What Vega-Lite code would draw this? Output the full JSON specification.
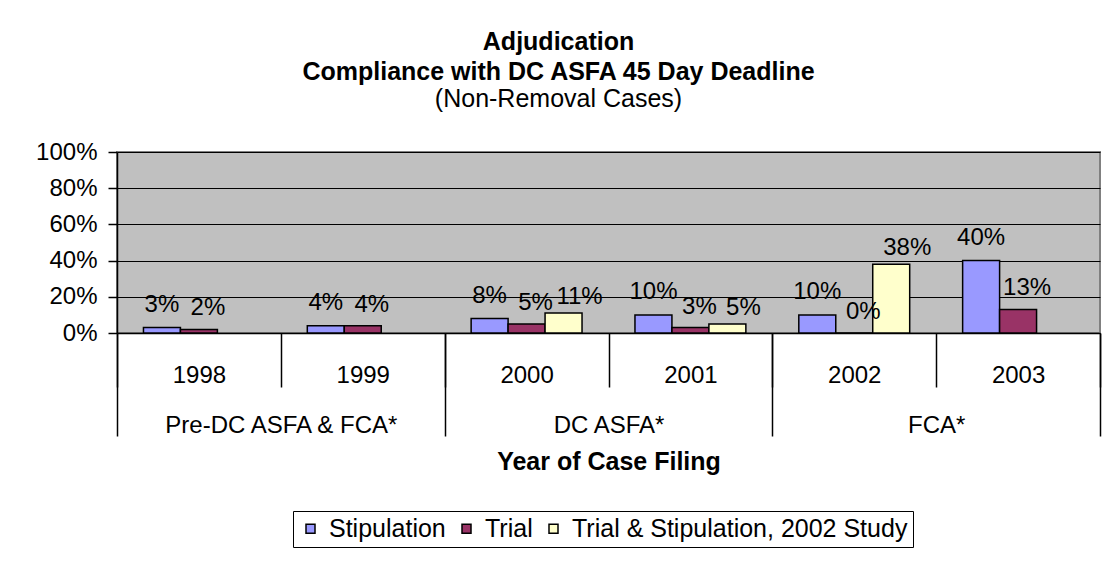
{
  "$schema": "https://vega.github.io/schema/vega-lite/v6.json",
  "width": 983,
  "height": 181,
  "autosize": {"type": "none"},
  "padding": {"left": 117, "top": 152, "right": 16, "bottom": 229},
  "background": "white",
  "config": {
    "font": "Liberation Sans",
    "view": {"fill": "#C0C0C0", "stroke": "#808080", "strokeWidth": 2},
    "axis": {"labelColor": "black", "labelFontSize": 24, "labelFont": "Liberation Sans", "domainColor": "black", "tickColor": "black", "titleColor": "black", "titleFont": "Liberation Sans", "labelLimit": 0}
  },
  "title": {
    "text": ["Adjudication", "Compliance with DC ASFA 45 Day Deadline"],
    "subtitle": "(Non-Removal Cases)",
    "font": "Liberation Sans",
    "subtitleFont": "Liberation Sans",
    "fontSize": 25,
    "subtitleFontSize": 25,
    "fontWeight": "bold",
    "subtitleFontWeight": "normal",
    "color": "black",
    "subtitleColor": "black",
    "lineHeight": 30,
    "subtitleLineHeight": 30,
    "subtitlePadding": 2,
    "anchor": "middle",
    "frame": "group",
    "dx": -50,
    "offset": 28
  },
  "data": {
    "values": [
      {"group": "Pre-DC ASFA & FCA*", "year": "1998", "series": "Stipulation", "value": 0.03},
      {"group": "Pre-DC ASFA & FCA*", "year": "1998", "series": "Trial", "value": 0.02},
      {"group": "Pre-DC ASFA & FCA*", "year": "1999", "series": "Stipulation", "value": 0.04},
      {"group": "Pre-DC ASFA & FCA*", "year": "1999", "series": "Trial", "value": 0.04},
      {"group": "DC ASFA*", "year": "2000", "series": "Stipulation", "value": 0.08},
      {"group": "DC ASFA*", "year": "2000", "series": "Trial", "value": 0.05},
      {"group": "DC ASFA*", "year": "2000", "series": "Trial & Stipulation, 2002 Study", "value": 0.11},
      {"group": "DC ASFA*", "year": "2001", "series": "Stipulation", "value": 0.10},
      {"group": "DC ASFA*", "year": "2001", "series": "Trial", "value": 0.03},
      {"group": "DC ASFA*", "year": "2001", "series": "Trial & Stipulation, 2002 Study", "value": 0.05},
      {"group": "FCA*", "year": "2002", "series": "Stipulation", "value": 0.10},
      {"group": "FCA*", "year": "2002", "series": "Trial", "value": 0.0},
      {"group": "FCA*", "year": "2002", "series": "Trial & Stipulation, 2002 Study", "value": 0.38},
      {"group": "FCA*", "year": "2003", "series": "Stipulation", "value": 0.40},
      {"group": "FCA*", "year": "2003", "series": "Trial", "value": 0.13}
    ]
  },
  "layer": [
    {
      "encoding": {
        "x": {
          "field": "year", "type": "nominal",
          "sort": ["1998", "1999", "2000", "2001", "2002", "2003"],
          "scale": {"paddingInner": 0, "paddingOuter": 0},
          "axis": {"title": null, "orient": "bottom", "labelAngle": 0, "tickBand": "extent", "tickSize": 54, "tickWidth": 1.5, "domainWidth": 1.5, "labelPadding": -24, "labelBaseline": "top", "grid": false}
        },
        "xOffset": {
          "field": "series", "type": "nominal",
          "sort": ["Stipulation", "Trial", "Trial & Stipulation, 2002 Study"],
          "scale": {"paddingInner": 0, "paddingOuter": 0.716}
        },
        "y": {
          "field": "value", "type": "quantitative",
          "scale": {"domain": [0, 1], "nice": false},
          "axis": {"title": null, "values": [0, 0.2, 0.4, 0.6, 0.8, 1], "tickCount": 10, "format": ".0%", "labelOverlap": false, "tickSize": 9, "tickWidth": 1.5, "domainWidth": 1.5, "labelPadding": 11, "gridColor": "black", "gridWidth": 1, "gridOpacity": 1}
        }
      },
      "layer": [
        {
          "mark": {"type": "bar", "stroke": "black", "strokeWidth": 1.5},
          "encoding": {
            "color": {
              "field": "series", "type": "nominal",
              "scale": {"domain": ["Stipulation", "Trial", "Trial & Stipulation, 2002 Study"], "range": ["#9999FF", "#993366", "#FFFFCC"]},
              "legend": {"title": null, "orient": "none", "legendX": 176, "legendY": 359, "direction": "horizontal", "strokeColor": "black", "fillColor": "white", "padding": 5, "labelFontSize": 25, "labelLimit": 0, "labelColor": "black", "labelFont": "Liberation Sans", "symbolType": "square", "symbolSize": 81, "symbolStrokeColor": "black", "symbolStrokeWidth": 1.5, "columnPadding": 8, "labelOffset": 6}
            }
          }
        },
        {
          "transform": [{"filter": "datum.series === 'Stipulation'"}],
          "mark": {"type": "text", "fontSize": 24, "color": "black", "baseline": "alphabetic", "dy": -16},
          "encoding": {"text": {"field": "value", "type": "quantitative", "format": ".0%"}}
        },
        {
          "transform": [{"filter": "datum.series === 'Trial'"}],
          "mark": {"type": "text", "fontSize": 24, "color": "black", "baseline": "alphabetic", "dy": -14, "dx": 9},
          "encoding": {"text": {"field": "value", "type": "quantitative", "format": ".0%"}}
        },
        {
          "transform": [{"filter": "datum.series === 'Trial & Stipulation, 2002 Study'"}],
          "mark": {"type": "text", "fontSize": 24, "color": "black", "baseline": "alphabetic", "dy": -9, "dx": 16},
          "encoding": {"text": {"field": "value", "type": "quantitative", "format": ".0%"}}
        }
      ]
    },
    {
      "mark": {"type": "point", "opacity": 0},
      "encoding": {
        "x": {
          "field": "group", "type": "nominal",
          "sort": ["Pre-DC ASFA & FCA*", "DC ASFA*", "FCA*"],
          "scale": {"paddingInner": 0, "paddingOuter": 0},
          "axis": {"orient": "bottom", "title": "Year of Case Filing", "titleFontSize": 25, "titleFontWeight": "bold", "titlePadding": 12, "labelAngle": 0, "labelLimit": 0, "tickBand": "extent", "tickSize": 103, "tickWidth": 1.5, "domain": false, "labelPadding": -23, "labelBaseline": "top", "grid": false}
        },
        "y": {
          "field": "value", "type": "quantitative",
          "scale": {"domain": [0, 1], "nice": false},
          "axis": {"title": null, "values": [0, 0.2, 0.4, 0.6, 0.8, 1], "tickCount": 10, "format": ".0%", "labelOverlap": false, "tickSize": 9, "tickWidth": 1.5, "domainWidth": 1.5, "labelPadding": 11, "gridColor": "black", "gridWidth": 1, "gridOpacity": 1}
        }
      }
    }
  ],
  "resolve": {"scale": {"x": "independent"}, "axis": {"x": "independent"}}
}
